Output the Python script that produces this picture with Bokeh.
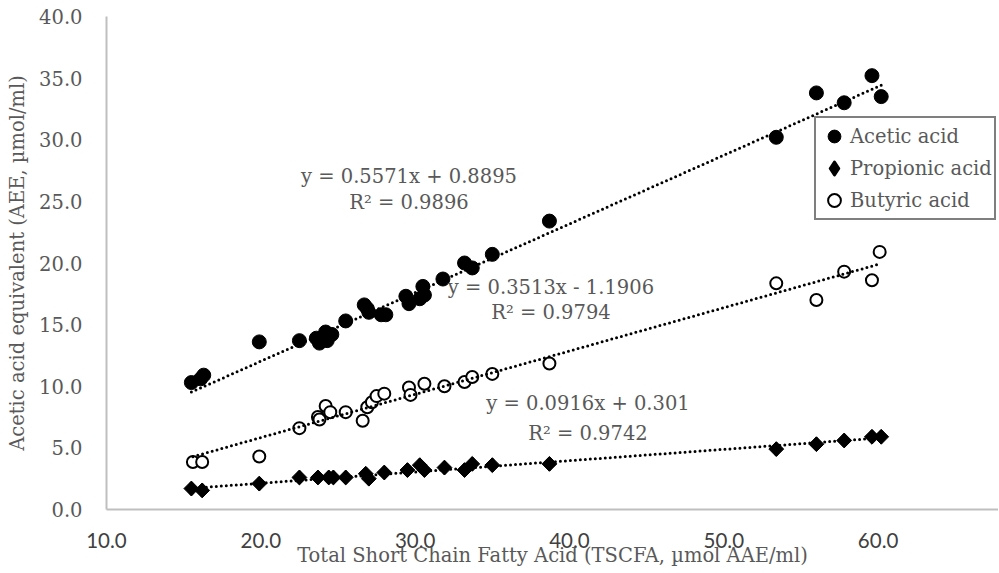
import math
from bokeh.plotting import figure
from bokeh.models import Range1d, FixedTicker, NumeralTickFormatter, Label, Legend, LegendItem
from bokeh.embed import file_html
from bokeh.resources import INLINE

# ---------------- data ----------------
acetic_x = [15.5, 16.1, 16.3, 19.9, 22.5, 23.6, 23.8, 24.2, 24.3, 24.6, 25.5, 26.7, 26.9, 27.0,
            27.8, 28.1, 29.4, 29.6, 30.3, 30.5, 30.6, 31.8, 33.2, 33.7, 35.0, 38.7, 53.4, 56.0,
            57.8, 59.6, 60.2]
acetic_y = [10.3, 10.6, 10.9, 13.6, 13.7, 13.9, 13.5, 14.4, 13.7, 14.2, 15.3, 16.6, 16.3, 16.0,
            15.8, 15.8, 17.3, 16.7, 17.1, 18.1, 17.4, 18.7, 20.0, 19.6, 20.7, 23.4, 30.2, 33.8,
            33.0, 35.2, 33.5]

propionic_x = [15.5, 16.2, 19.9, 22.5, 23.7, 24.4, 24.7, 25.5, 26.8, 27.0, 28.0, 29.5, 30.3, 30.6,
               31.9, 33.2, 33.7, 35.0, 38.7, 53.4, 56.0, 57.8, 59.6, 60.2]
propionic_y = [1.7, 1.55, 2.1, 2.6, 2.6, 2.6, 2.6, 2.6, 2.9, 2.5, 3.0, 3.2, 3.6, 3.2,
               3.4, 3.2, 3.7, 3.6, 3.7, 4.9, 5.3, 5.6, 5.9, 5.9]

butyric_x = [15.6, 16.2, 19.9, 22.5, 23.7, 23.8, 24.2, 24.5, 25.5, 26.6, 26.9, 27.2, 27.5, 28.0,
             29.6, 29.7, 30.6, 31.9, 33.2, 33.7, 35.0, 38.7, 53.4, 56.0, 57.8, 59.6, 60.1]
butyric_y = [3.85, 3.85, 4.3, 6.6, 7.5, 7.3, 8.4, 7.9, 7.9, 7.2, 8.3, 8.7, 9.2, 9.4,
             9.9, 9.3, 10.2, 10.0, 10.35, 10.75, 11.0, 11.85, 18.35, 17.0, 19.3, 18.6, 20.9]

series_names = ["Acetic acid", "Propionic acid", "Butyric acid"]
slopes = [0.5571, 0.0916, 0.3513]
intercepts = [0.8895, 0.301, -1.1906]
eq_texts = ["y = 0.5571x + 0.8895", "y = 0.0916x + 0.301", "y = 0.3513x - 1.1906"]
r2_texts = ["R\u00b2 = 0.9896", "R\u00b2 = 0.9742", "R\u00b2 = 0.9794"]

x_ticks = [10, 20, 30, 40, 50, 60]
y_ticks = [0, 5, 10, 15, 20, 25, 30, 35, 40]
x_title = "Total Short Chain Fatty Acid (TSCFA, \u00b5mol AAE/ml)"
y_title = "Acetic acid equivalent (AEE, \u00b5mol/ml)"

# ---------------- style ----------------
SERIF = "DejaVu Serif"
SANS = "Lato"
FS = "19.5px"
GRAY = "#595959"
AXIS_GRAY = "#bfbfbf"
W, H = 998, 572

p = figure(width=W, height=H, x_range=Range1d(10, 67.8), y_range=Range1d(0, 40),
           output_backend="svg", toolbar_location=None,
           min_border_left=106, min_border_right=0, min_border_top=16, min_border_bottom=63)
p.outline_line_color = None
p.grid.visible = False
p.background_fill_color = "white"
p.border_fill_color = "white"

for ax in (p.xaxis[0], p.yaxis[0]):
    ax.axis_line_color = AXIS_GRAY
    ax.axis_line_width = 2
    ax.major_tick_line_color = None
    ax.minor_tick_line_color = None
    ax.major_tick_in = 0
    ax.major_tick_out = 0
    ax.formatter = NumeralTickFormatter(format="0.0")
    ax.axis_label_text_font = SERIF
    ax.axis_label_text_font_size = FS
    ax.axis_label_text_color = GRAY
    ax.axis_label_text_font_style = "normal"

xa = p.xaxis[0]
xa.ticker = FixedTicker(ticks=x_ticks)
xa.major_label_text_font = SANS
xa.major_label_text_font_size = "20.5px"
xa.major_label_text_color = "#404040"
xa.major_label_standoff = 23
xa.axis_label = x_title
xa.axis_label_standoff = -7
if "axis_label_background_fill_color" in xa.properties():
    xa.axis_label_background_fill_color = "white"

ya = p.yaxis[0]
ya.ticker = FixedTicker(ticks=y_ticks)
ya.major_label_text_font = SERIF
ya.major_label_text_font_size = FS
ya.major_label_text_color = GRAY
ya.major_label_standoff = 24
ya.axis_label = y_title
ya.axis_label_standoff = 7

# ---------------- marks ----------------
r_ac = p.scatter(acetic_x, acetic_y, marker="circle", size=14,
                 fill_color="black", line_color="black")
# diamond key for the legend (hidden beneath the rotated squares)
r_pr_key = p.scatter(propionic_x, propionic_y, marker="diamond", size=11,
                     fill_color="black", line_color="black", line_width=3, line_join="round")
r_pr = p.scatter(propionic_x, propionic_y, marker="square", angle=math.pi / 4, size=10.5,
                 fill_color="black", line_color="black")
r_bu = p.scatter(butyric_x, butyric_y, marker="circle", size=12,
                 fill_color="white", line_color="black", line_width=2)

for xs, m, b in zip([acetic_x, propionic_x, butyric_x], slopes, intercepts):
    x0, x1 = min(xs), max(xs)
    p.line([x0, x1], [m * x0 + b, m * x1 + b], line_color="black", line_width=3,
           line_dash="0 5", line_cap="round")

# ---------------- equation labels ----------------
eq_pos = [(29.6, 27.0, 24.9), (41.2, 8.6, 6.2), (38.8, 18.05, 16.0)]
for (ex, ey, ry), et, rt in zip(eq_pos, eq_texts, r2_texts):
    for yy, tt in ((ey, et), (ry, rt)):
        p.add_layout(Label(x=ex, y=yy, text=tt, text_align="center", text_baseline="middle",
                           text_font=SERIF, text_font_size=FS, text_color=GRAY))

# ---------------- legend ----------------
legend = Legend(items=[LegendItem(label=n, renderers=[r]) for n, r in
                       zip(series_names, [r_ac, r_pr_key, r_bu])],
                location=(708, 289), border_line_color="black", border_line_width=2,
                background_fill_color="white", background_fill_alpha=1.0,
                label_text_font=SERIF, label_text_font_size=FS, label_text_color=GRAY,
                padding=2, spacing=0, glyph_width=32, glyph_height=32, label_height=32,
                label_standoff=0, margin=0)
p.add_layout(legend)

open("out.html", "w").write(file_html(p, INLINE))
